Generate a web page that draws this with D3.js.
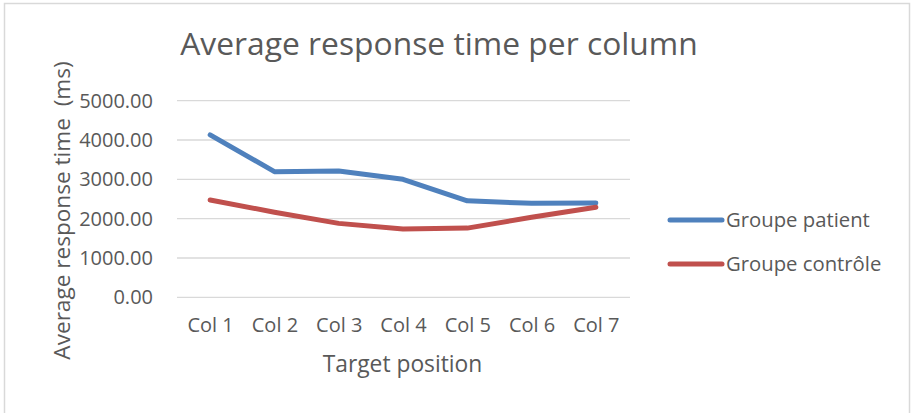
<!DOCTYPE html>
<html><head><meta charset="utf-8">
<script src="https://cdn.jsdelivr.net/npm/d3@7"></script>
<style>body{margin:0;background:#fff}svg text{font-family:"Open Sans",sans-serif;fill:#595959}</style>
</head><body><svg id="c" width="911" height="413"></svg>
<script>
const categories = ["Col 1","Col 2","Col 3","Col 4","Col 5","Col 6","Col 7"];
const patient = [4130,3195,3210,3000,2455,2390,2400];
const controle = [2475,2165,1880,1735,1760,2035,2290];
const seriesNames = ["Groupe patient","Groupe contrôle"];
const yTicks = [0,1000,2000,3000,4000,5000];

const svg = d3.select("#c");
svg.append("rect").attr("x",4.5).attr("y",3.5).attr("width",905).attr("height",420)
  .attr("fill","#fff").attr("stroke","#d9d9d9").attr("stroke-width",1.5);

const x = d3.scalePoint().domain(categories).range([178,628]).padding(0.5);
const y = d3.scaleLinear().domain([0,5000]).range([297.3,100.7]);

// gridlines
svg.append("g").selectAll("line").data(yTicks).join("line")
  .attr("x1",177).attr("x2",630).attr("y1",d=>y(d)).attr("y2",d=>y(d))
  .attr("stroke","#d9d9d9").attr("stroke-width",1.3);

// y axis labels
const yAxis = d3.axisLeft(y).tickValues(yTicks).tickFormat(d3.format(".2f")).tickSize(0).tickPadding(0);
const gy = svg.append("g").attr("transform","translate(153,0)").call(yAxis);
gy.select(".domain").remove();
gy.selectAll("text").style("font-size","20px").attr("fill","#595959").style("font-family","Open Sans");

// x axis labels
const xAxis = d3.axisBottom(x).tickSize(0).tickPadding(0);
const gx = svg.append("g").attr("transform","translate(0,318)").call(xAxis);
gx.select(".domain").remove();
gx.selectAll("text").style("font-size","20px").attr("fill","#595959").style("font-family","Open Sans");

const line = d3.line().x((d,i)=>x(categories[i])).y(d=>y(d));
const colors = ["#4F81BD","#C0504D"];
[patient,controle].forEach((s,k)=>{
  svg.append("path").attr("d",line(s)).attr("fill","none").attr("stroke",colors[k])
    .attr("stroke-width",5).attr("stroke-linejoin","round").attr("stroke-linecap","round");
});

// title
svg.append("text").attr("x",439).attr("y",55).attr("text-anchor","middle")
  .style("font-size","31.8px").text("Average response time per column");
// axis titles
svg.append("text").attr("x",402.5).attr("y",372).attr("text-anchor","middle")
  .style("font-size","22.8px").text("Target position");
svg.append("text").attr("transform","translate(70,210.5) rotate(-90)").attr("text-anchor","middle")
  .style("font-size","22.6px").style("white-space","pre").text("Average response time  (ms)");

// legend
const leg = svg.append("g");
seriesNames.forEach((n,k)=>{
  const ly = 220 + k*44;
  leg.append("line").attr("x1",670).attr("x2",722).attr("y1",ly).attr("y2",ly)
    .attr("stroke",colors[k]).attr("stroke-width",5).attr("stroke-linecap","round");
  leg.append("text").attr("x",726).attr("y",ly+7).style("font-size","20.3px").text(n);
});
</script></body></html>
